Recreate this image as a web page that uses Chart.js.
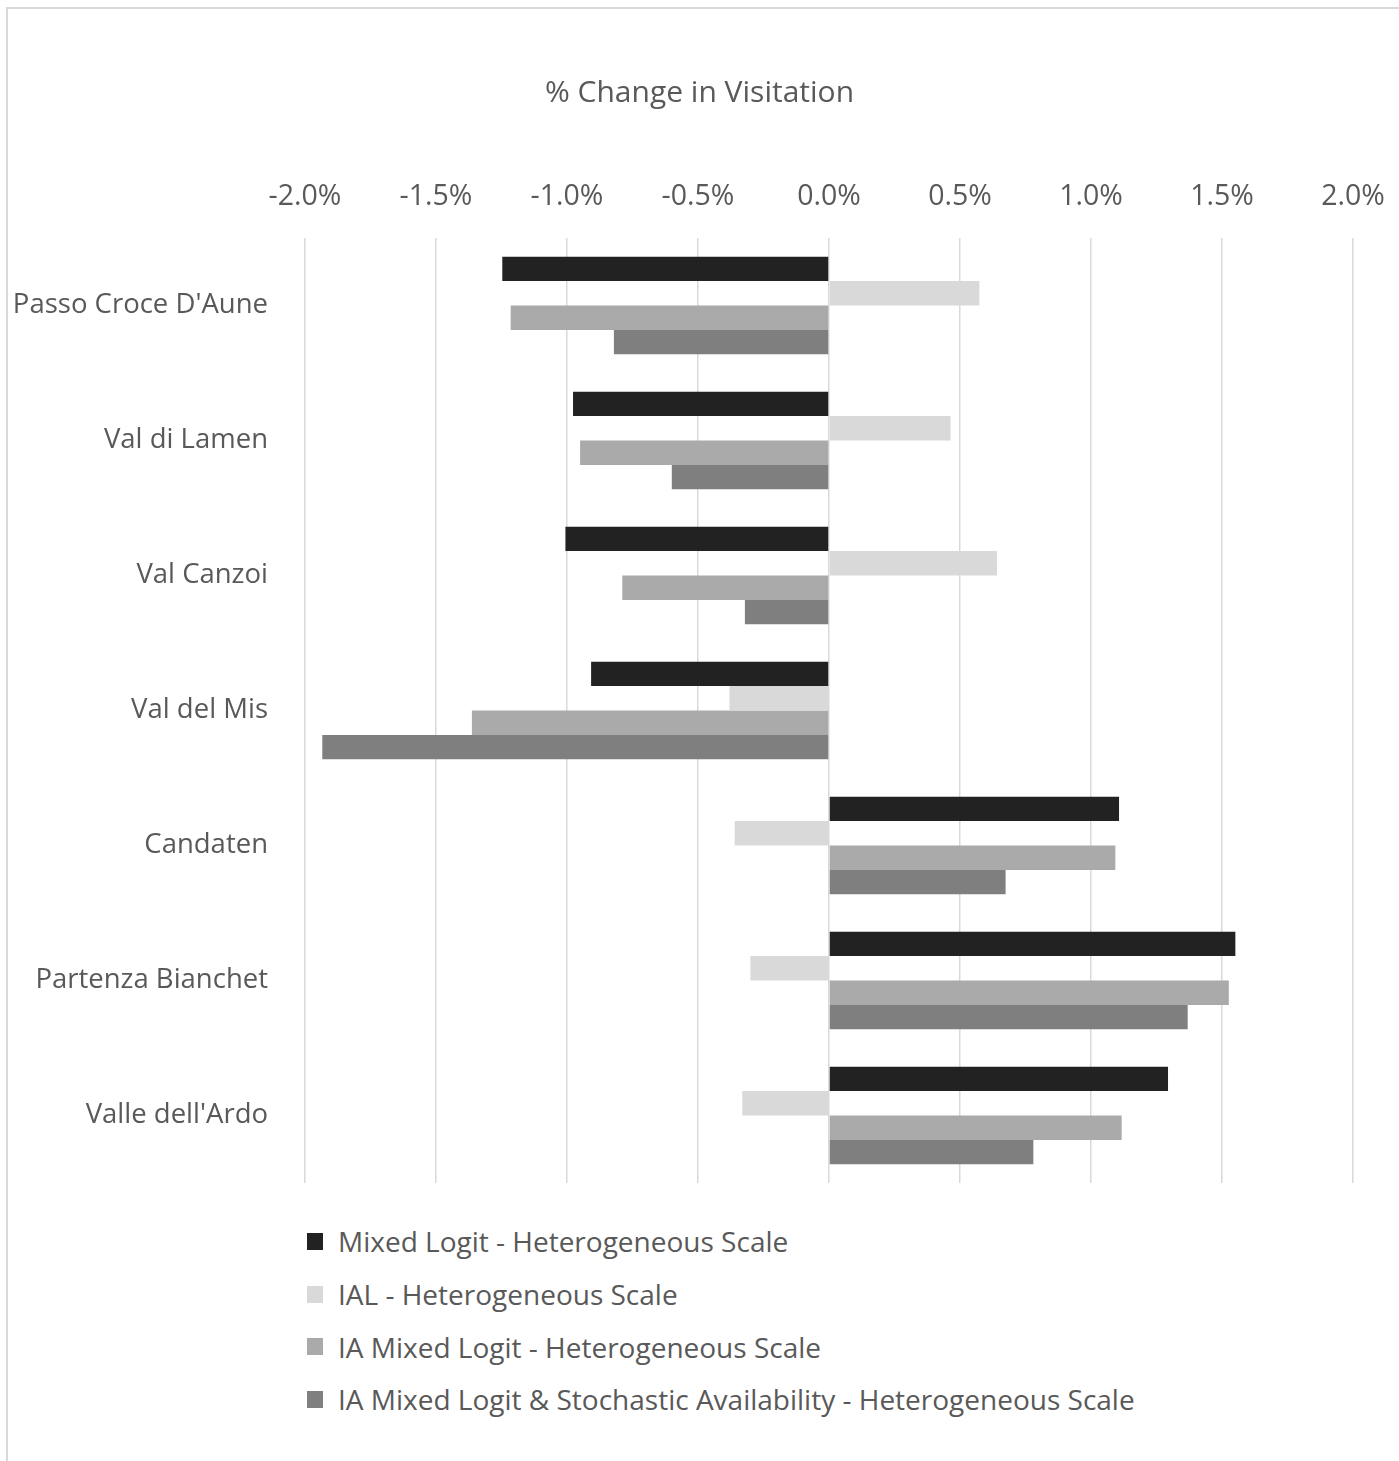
<!DOCTYPE html>
<html lang="en">

<head>
    <meta charset="UTF-8">
    <title>% Change in Visitation</title>
    <script src="https://cdn.jsdelivr.net/npm/chart.js"></script>
    <style>
        html, body {
            margin: 0;
            background: #ffffff;
            font-family: 'Open Sans', sans-serif;
            overflow: hidden;
        }

        #frame {
            position: absolute;
            left: 6px;
            top: 7px;
            width: 1400px;
            height: 1460px;
            border-left: 2px solid #d9d9d9;
            border-top: 2px solid #d9d9d9;
        }

        #chart-container {
            position: absolute;
            left: 0;
            top: 0;
            width: 1399px;
            height: 1200px;
        }

        #legend {
            position: absolute;
            left: 307px;
            top: 1215px;
        }

        .legend-item {
            height: 52.7px;
            display: flex;
            align-items: center;
            color: #595959;
            font-size: 28px;
            white-space: nowrap;
        }

        .legend-box {
            width: 16px;
            height: 17px;
            margin-right: 15px;
            flex: none;
        }
    </style>
</head>

<body>
    <div id="frame"></div>
    <div id="chart-container">
        <canvas id="visitChart"></canvas>
    </div>
    <div id="legend"></div>

    <script>
        // data (values in %)
        var categories = ['Passo Croce D\'Aune', 'Val di Lamen', 'Val Canzoi', 'Val del Mis',
            'Candaten', 'Partenza Bianchet', 'Valle dell\'Ardo'];
        var seriesNames = [
            'Mixed Logit - Heterogeneous Scale',
            'IAL - Heterogeneous Scale',
            'IA Mixed Logit - Heterogeneous Scale',
            'IA Mixed Logit & Stochastic Availability - Heterogeneous Scale'
        ];
        var mixedLogit = [-1.247, -0.977, -1.006, -0.908, 1.107, 1.551, 1.294];
        var ial = [0.574, 0.464, 0.641, -0.380, -0.360, -0.300, -0.331];
        var iaMixedLogit = [-1.215, -0.950, -0.789, -1.363, 1.093, 1.526, 1.117];
        var iaStochastic = [-0.821, -0.600, -0.321, -1.934, 0.674, 1.369, 0.780];
        var xTicks = [-2.0, -1.5, -1.0, -0.5, 0.0, 0.5, 1.0, 1.5, 2.0];

        var colors = ['#222222', '#d9d9d9', '#aaaaaa', '#7f7f7f'];
        var allSeries = [mixedLogit, ial, iaMixedLogit, iaStochastic];
        var textColor = '#595959';
        var family = "'Open Sans', sans-serif";

        var datasets = allSeries.map(function (values, i) {
            return {
                label: seriesNames[i],
                data: values,
                backgroundColor: colors[i],
                borderWidth: 0,
                categoryPercentage: 0.724,
                barPercentage: 1.0
            };
        });

        var ctx = document.getElementById('visitChart').getContext('2d');
        var visitChart = new Chart(ctx, {
            type: 'bar',
            data: {
                labels: categories,
                datasets: datasets
            },
            options: {
                indexAxis: 'y',
                responsive: true,
                maintainAspectRatio: false,
                animation: false,
                layout: {
                    padding: { left: 0, right: 0, top: 0, bottom: 17 }
                },
                plugins: {
                    legend: { display: false },
                    tooltip: { enabled: false },
                    title: {
                        display: true,
                        text: '% Change in Visitation',
                        color: textColor,
                        font: { family: family, size: 30, weight: 'normal' },
                        padding: { top: 75, bottom: 67 }
                    }
                },
                scales: {
                    x: {
                        position: 'top',
                        min: -2,
                        max: 2,
                        afterBuildTicks: function (scale) {
                            scale.ticks = xTicks.map(function (v) { return { value: v }; });
                        },
                        afterFit: function (scale) {
                            scale.height = 60;
                            scale.paddingLeft = 0;
                            scale.paddingRight = 46;
                        },
                        border: { display: false },
                        grid: {
                            color: '#d9d9d9',
                            lineWidth: 1.5,
                            drawTicks: false
                        },
                        ticks: {
                            color: textColor,
                            font: { family: family, size: 28.5 },
                            padding: 24,
                            maxRotation: 0,
                            callback: function (v) { return v.toFixed(1) + '%'; }
                        }
                    },
                    y: {
                        afterFit: function (scale) {
                            scale.width = 305;
                            scale.paddingTop = 0;
                            scale.paddingBottom = 0;
                        },
                        border: { display: false },
                        grid: { display: false, drawTicks: false },
                        ticks: {
                            color: textColor,
                            font: { family: family, size: 27.5 },
                            padding: 37
                        }
                    }
                }
            }
        });

        // legend, one series per row
        var legendEl = document.getElementById('legend');
        seriesNames.forEach(function (name, i) {
            var row = document.createElement('div');
            row.className = 'legend-item';
            var box = document.createElement('span');
            box.className = 'legend-box';
            box.style.background = colors[i];
            var label = document.createElement('span');
            label.textContent = name;
            row.appendChild(box);
            row.appendChild(label);
            legendEl.appendChild(row);
        });
    </script>
</body>

</html>
